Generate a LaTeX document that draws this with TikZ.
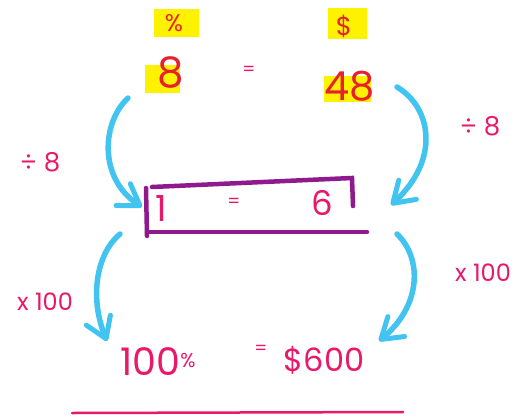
\documentclass[tikz,border=0pt]{standalone}
\usepackage{fontspec}
\setmainfont{Poppins}
\usetikzlibrary{arrows.meta}
\definecolor{hl}{HTML}{FFF200}
\definecolor{redtxt}{HTML}{E8202E}
\definecolor{mag}{HTML}{E8196A}
\definecolor{sky}{HTML}{41C5F0}
\definecolor{purp}{HTML}{8E1A8E}
\newcommand{\fsz}[1]{\fontsize{#1}{#1}\selectfont}
\tikzset{
  toptxt/.style={text=redtxt, inner sep=0pt},
  magtxt/.style={text=mag, inner sep=0pt},
  flow/.style={draw=sky, line width=5.5pt, line cap=round,
    -{Straight Barb[length=20pt,width=26pt,line width=5pt,round]}},
  boxline/.style={draw=purp, line width=4.5pt, line cap=round},
}
\begin{document}
\begin{tikzpicture}[x=1pt,y=-1pt]
\useasboundingbox[fill=white] (0,0) rectangle (526,417);
% highlights
\fill[hl] (154,9) rectangle (199,37);
\fill[hl] (328,8) rectangle (367,39);
\fill[hl] (145,65) rectangle (180,93);
\fill[hl] (324,76) rectangle (371,102);
% top row
\node[toptxt] (pct) at (174,23) {\fsz{24}\%};
\node[toptxt] (dol) at (344,26) {\fsz{26}\$};
\node[toptxt] (eight) at (171,73) {\fsz{42}8};
\node[magtxt] (eqa) at (249,71) {\fsz{18}=};
\node[toptxt] (ff) at (350,86) {\fsz{40}48};
% box
\node (box) at (257,208) [minimum width=212pt, minimum height=50pt] {};
\draw[boxline] (152,187) -- (352,178) -- (353,206);
\draw[boxline] (146,188) -- (147,236);
\draw[boxline] (147,232) -- (367,232);
\node[magtxt] (one) at (161,208) {\fsz{36}1};
\node[magtxt] (eqb) at (234,203) {\fsz{18}=};
\node[magtxt] (six) at (322,203) {\fsz{34}6};
% bottom row
\node[magtxt] (hund) at (158,362) {\fsz{38}100\raisebox{8pt}{\fsz{20}\%}};
\node[magtxt] (eqc) at (261,350) {\fsz{18}=};
\node[magtxt] (six00) at (324,360) {\fsz{32}\$600};
% labels
\node[magtxt] (l1) at (40,162) {\fsz{26}÷ 8};
\node[magtxt] (l2) at (480,126) {\fsz{26}÷ 8};
\node[magtxt] (l3) at (45,302) {\fsz{24}x 100};
\node[magtxt] (l4) at (483,273) {\fsz{24}x 100};
% arrows
\coordinate (a1s) at (128,98);  \coordinate (a1e) at (142,207);
\coordinate (a2s) at (397,87);  \coordinate (a2e) at (391,205);
\coordinate (a3s) at (120,234); \coordinate (a3e) at (107,341);
\coordinate (a4s) at (397,234); \coordinate (a4e) at (379,341);
\draw[flow] (a1s) .. controls (102,122) and (98,178) .. (a1e);
\draw[flow] (a2s) .. controls (432,108) and (440,160) .. (a2e);
\draw[flow] (a3s) .. controls (95,255) and (90,300) .. (a3e);
\draw[flow] (a4s) .. controls (422,258) and (422,305) .. (a4e);
% underline
\coordinate (u1) at (72,413); \coordinate (u2) at (403,412);
\draw[draw=mag, line width=2.5pt, line cap=round] (u1) -- (u2);
\end{tikzpicture}
\end{document}
